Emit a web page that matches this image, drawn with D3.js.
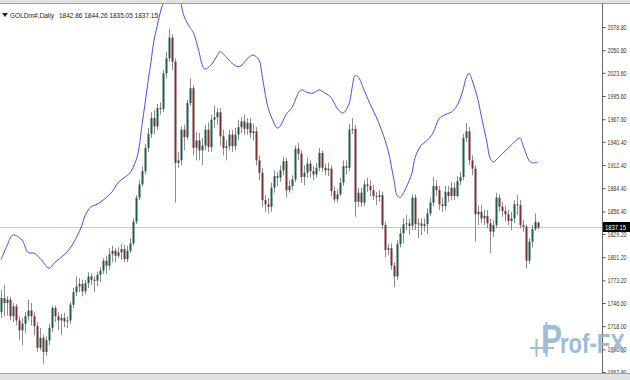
<!DOCTYPE html>
<html><head><meta charset="utf-8">
<script src="https://cdn.jsdelivr.net/npm/d3@7"></script>
<style>html,body{margin:0;padding:0;background:#fff;}svg{display:block;}</style>
</head><body>
<svg id="c" width="630" height="380"></svg>
<script>
const symbol = "GOLDm#,Daily";
const lastQuote = ["1842.86", "1844.26", "1835.05", "1837.15"];
const lastPrice = 1837.15;
const yTicks = [2078.80, 2050.80, 2023.60, 1995.60, 1967.60, 1940.40, 1912.40, 1884.40, 1856.40, 1829.20, 1801.20, 1773.20, 1746.00, 1718.00, 1690.00, 1662.80];

const opens = [
1735,1752,1746,1750,1730,1742,1725,1713,1721,1730,
1737,1730,1718,1692,1704,1687,1701,1716,1740,1730,
1725,1728,1724,1725,1744,1759,1766,1769,1760,1770,
1778,1774,1773,1780,1785,1797,1791,1805,1809,1803,
1807,1811,1799,1809,1818,1844,1873,1889,1905,1933,
1950,1969,1959,1981,1980,2023,2041,2066,2037,1915,
1918,1955,1946,1987,2005,1933,1942,1930,1936,1955,
1934,1967,1970,1976,1947,1933,1935,1949,1935,1949,
1958,1965,1956,1963,1951,1953,1918,1903,1870,1865,
1862,1885,1899,1897,1906,1917,1882,1887,1895,1932,
1926,1898,1903,1914,1905,1901,1909,1927,1909,1906,
1908,1881,1871,1877,1891,1911,1909,1955,1956,1868,
1879,1867,1889,1887,1882,1875,1874,1876,1840,1810,
1812,1791,1778,1817,1830,1841,1842,1839,1873,1841,
1842,1839,1841,1854,1867,1887,1882,1865,1863,1880,
1875,1885,1875,1893,1898,1945,1953,1918,1908,1853,
1856,1848,1851,1842,1832,1840,1873,1862,1857,1853,
1845,1848,1865,1864,1840,1838,1797,1820,1835,1842.86];
const highs = [
1762,1768,1754,1753,1746,1745,1730,1728,1735,1750,
1746,1735,1723,1716,1708,1706,1721,1743,1743,1735,
1733,1734,1730,1747,1764,1778,1776,1774,1774,1783,
1782,1778,1784,1789,1800,1803,1812,1815,1812,1813,
1817,1816,1815,1824,1848,1876,1894,1911,1938,1957,
1976,1979,1986,1988,2027,2049,2077,2070,2041,1928,
1959,1961,1991,2017,2009,1952,1951,1945,1961,1964,
1973,1984,1981,1981,1955,1942,1955,1955,1957,1967,
1970,1973,1969,1969,1962,1958,1924,1909,1876,1873,
1891,1906,1904,1912,1922,1921,1894,1900,1936,1939,
1930,1912,1921,1918,1911,1915,1933,1930,1914,1915,
1912,1887,1883,1897,1918,1918,1962,1969,1961,1885,
1885,1894,1897,1894,1888,1880,1882,1880,1844,1817,
1818,1795,1822,1836,1848,1852,1848,1877,1877,1848,
1848,1848,1860,1873,1898,1894,1887,1873,1887,1887,
1892,1891,1899,1904,1950,1963,1958,1924,1912,1864,
1864,1858,1858,1848,1846,1879,1877,1868,1863,1859,
1856,1870,1876,1870,1846,1841,1824,1840,1854,1844.26];
const lows = [
1728,1730,1731,1725,1723,1719,1701,1695,1710,1725,
1719,1707,1687,1689,1673,1682,1695,1711,1723,1713,
1707,1717,1716,1721,1740,1754,1759,1754,1756,1764,
1768,1759,1766,1771,1781,1781,1786,1795,1795,1800,
1798,1795,1795,1806,1815,1841,1870,1887,1901,1928,
1945,1950,1955,1973,1976,2017,2037,2027,1867,1909,
1912,1930,1943,1984,1924,1918,1918,1912,1930,1928,
1928,1957,1961,1936,1924,1918,1930,1928,1930,1942,
1951,1949,1949,1945,1942,1912,1894,1862,1856,1854,
1856,1879,1887,1892,1900,1873,1879,1882,1892,1918,
1891,1888,1897,1897,1894,1897,1905,1904,1900,1899,
1875,1867,1867,1875,1887,1901,1905,1950,1850,1862,
1862,1863,1880,1875,1870,1864,1868,1835,1801,1804,
1786,1765,1774,1813,1818,1834,1828,1834,1834,1824,
1828,1832,1829,1851,1863,1875,1858,1856,1858,1868,
1870,1870,1873,1888,1894,1940,1912,1900,1820,1840,
1842,1840,1836,1806,1826,1836,1856,1850,1844,1840,
1834,1842,1852,1836,1832,1788,1793,1813,1833,1835.05];
const closes = [
1752,1746,1750,1730,1742,1725,1713,1721,1730,1737,
1730,1718,1692,1704,1687,1701,1716,1740,1730,1725,
1728,1724,1725,1744,1759,1766,1769,1760,1770,1778,
1774,1773,1780,1785,1797,1791,1805,1809,1803,1807,
1811,1799,1809,1818,1844,1873,1889,1905,1933,1950,
1969,1959,1981,1980,2023,2041,2066,2037,1915,1918,
1955,1946,1987,2005,1933,1942,1930,1936,1955,1934,
1967,1970,1976,1947,1933,1935,1949,1935,1949,1958,
1965,1956,1963,1951,1953,1918,1903,1870,1865,1862,
1885,1899,1897,1906,1917,1882,1887,1895,1932,1926,
1898,1903,1914,1905,1901,1909,1927,1909,1906,1908,
1881,1871,1877,1891,1911,1909,1955,1956,1868,1879,
1867,1889,1887,1882,1875,1874,1876,1840,1810,1812,
1791,1778,1817,1830,1841,1842,1839,1873,1841,1842,
1839,1841,1854,1867,1887,1882,1865,1863,1880,1875,
1885,1875,1893,1898,1945,1953,1918,1908,1853,1856,
1848,1851,1842,1832,1840,1873,1862,1857,1853,1845,
1848,1865,1864,1840,1838,1797,1820,1835,1844,1837.15];

// upper envelope (blue line), read at selected bars
const bandIdx = [0,2,4,7,9,11,13,16,18,21,23,25,27,28,30,32,34,37,39,41,43,45,46,47,48,49,50,51,52,53,55,57,59,61,63,64,66,67,68,70,72,73,75,77,79,80,82,84,86,87,89,91,92,93,95,97,100,102,104,106,108,110,112,114,116,117,118,119,121,123,125,127,129,131,132,133,135,137,138,140,142,144,146,148,150,152,154,155,156,157,159,160,162,163,164,166,168,170,173,174,176,177,179];
const bandVal = [1798,1815,1828,1822,1807,1806,1800,1788,1795,1804,1812,1824,1840,1851,1862,1865,1870,1880,1891,1897,1903,1918,1933,1961,1986,2013,2037,2063,2079,2095,2117,2129,2121,2092,2078,2073,2049,2034,2028,2033,2044,2049,2043,2035,2031,2032,2040,2045,2039,2021,1982,1963,1957,1959,1973,1982,2003,2000,1999,2003,1999,1994,1981,1975,1986,2005,2020,2019,2003,1986,1971,1953,1930,1894,1876,1873,1885,1903,1921,1936,1942,1951,1968,1973,1976,1984,2003,2017,2023,2015,1991,1973,1939,1921,1916,1922,1929,1936,1945,1936,1918,1915,1916];

const svg = d3.select("#c");
const N = closes.length;
const axisX = 602.5;
const x = d3.scaleLinear().domain([0, N - 1]).range([1, 538]);
const y = d3.scaleLinear().domain([1662.8, 2078.8]).range([372, 27]);

svg.append("defs").append("clipPath").attr("id", "plot")
  .append("rect").attr("x", 0).attr("y", 4).attr("width", 602).attr("height", 369);

const plot = svg.append("g").attr("clip-path", "url(#plot)");

// current price line
plot.append("line").attr("x1", 0).attr("x2", 602)
  .attr("y1", Math.round(y(lastPrice)) + 0.5).attr("y2", Math.round(y(lastPrice)) + 0.5)
  .attr("stroke", "#c8c8c8").attr("stroke-width", 1);

// band line
const bandData = bandIdx.map((d, i) => ({i: d, v: bandVal[i]}));
plot.append("path").datum(bandData)
  .attr("fill", "none").attr("stroke", "#4b4bff").attr("stroke-width", 1)
  .attr("d", d3.line().x(d => x(d.i)).y(d => y(d.v)).curve(d3.curveCatmullRom.alpha(0.5)));

// candles
const bars = d3.range(N).map(i => ({i, o: opens[i], h: highs[i], l: lows[i], c: closes[i]}));
const cg = plot.selectAll("g.bar").data(bars).enter().append("g");
cg.append("line")
  .attr("x1", d => Math.round(x(d.i)) + 0.5).attr("x2", d => Math.round(x(d.i)) + 0.5)
  .attr("y1", d => y(d.h)).attr("y2", d => y(d.l))
  .attr("stroke", "#8c8c8c").attr("stroke-width", 1);
cg.append("rect")
  .attr("x", d => Math.round(x(d.i)) - 0.5)
  .attr("width", 2)
  .attr("y", d => y(Math.max(d.o, d.c)))
  .attr("height", d => Math.max(1, Math.abs(y(d.o) - y(d.c))))
  .attr("fill", d => d.c > d.o ? "#1f5c50" : (d.c < d.o ? "#7a3030" : "#444"));

// frame
svg.append("rect").attr("x", 0).attr("y", 0).attr("width", 630).attr("height", 3).attr("fill", "#e2e2e2");
svg.append("line").attr("x1", 0).attr("x2", 630).attr("y1", 3.5).attr("y2", 3.5).attr("stroke", "#a0a0a0");
svg.append("line").attr("x1", axisX).attr("x2", axisX).attr("y1", 3).attr("y2", 374).attr("stroke", "#6a6a6a");

// right axis
const yAxis = d3.axisRight(y).tickValues(yTicks).tickFormat(d3.format(".2f")).tickSize(3).tickPadding(2);
const ag = svg.append("g").attr("transform", `translate(${axisX},0)`).call(yAxis);
ag.select(".domain").remove();
ag.selectAll(".tick line").attr("stroke", "#555");
ag.selectAll(".tick text").attr("fill", "#333").style("font-family", "Liberation Sans, Arial, sans-serif")
  .style("font-size", "7.5px").attr("textLength", 19).attr("lengthAdjust", "spacingAndGlyphs");

// price label
const py = Math.round(y(lastPrice));
svg.append("rect").attr("x", 603).attr("y", py - 5).attr("width", 27).attr("height", 10).attr("fill", "#000");
svg.append("text").attr("x", 605).attr("y", py + 3).attr("fill", "#fff")
  .style("font-family", "Liberation Sans, Arial, sans-serif").style("font-size", "7.5px")
  .attr("textLength", 21).attr("lengthAdjust", "spacingAndGlyphs").text(d3.format(".2f")(lastPrice));

// bottom frame
svg.append("line").attr("x1", 0).attr("x2", 630).attr("y1", 373.5).attr("y2", 373.5).attr("stroke", "#a0a0a0");
svg.append("rect").attr("x", 0).attr("y", 374).attr("width", 630).attr("height", 6).attr("fill", "#e2e2e2");

// header
svg.append("path").attr("d", "M2,13 L8,13 L5,17 Z").attr("fill", "#222");
svg.append("text").attr("x", 10).attr("y", 18).attr("fill", "#222")
  .style("font-family", "Liberation Sans, Arial, sans-serif").style("font-size", "8px")
  .attr("textLength", 44).attr("lengthAdjust", "spacingAndGlyphs").text(symbol);
svg.append("text").attr("x", 59).attr("y", 18).attr("fill", "#222")
  .style("font-family", "Liberation Sans, Arial, sans-serif").style("font-size", "8px")
  .attr("textLength", 99).attr("lengthAdjust", "spacingAndGlyphs").text(lastQuote.join(" "));

// watermark
const wm = svg.append("g").attr("opacity", 0.85);
const wc = "#8cb2d4";
wm.append("rect").attr("x", 530).attr("y", 347).attr("width", 24).attr("height", 2).attr("fill", wc);
wm.append("rect").attr("x", 535.5).attr("y", 339).attr("width", 2).attr("height", 18).attr("fill", wc);
wm.append("rect").attr("x", 545.5).attr("y", 322).attr("width", 2).attr("height", 35).attr("fill", wc);
wm.append("text").attr("x", 541).attr("y", 353).attr("fill", wc)
  .style("font-family", "Liberation Sans, Arial, sans-serif").style("font-weight", "bold").style("font-size", "40px")
  .attr("textLength", 21).attr("lengthAdjust", "spacingAndGlyphs").text("P");
wm.append("text").attr("x", 560).attr("y", 353).attr("fill", wc)
  .style("font-family", "Liberation Sans, Arial, sans-serif").style("font-weight", "bold").style("font-size", "27px")
  .attr("textLength", 65).attr("lengthAdjust", "spacingAndGlyphs").text("rof-FX");
</script>
</body></html>
